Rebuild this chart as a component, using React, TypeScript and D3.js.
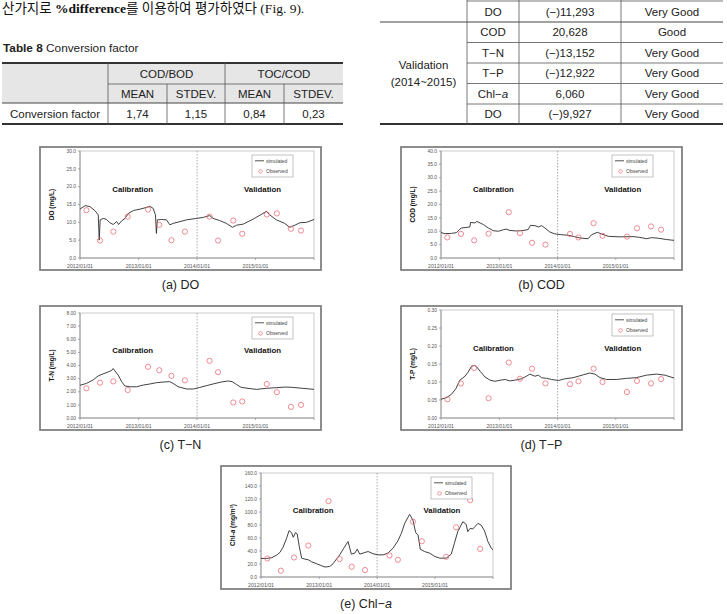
import * as d3 from 'd3'

// ---- text / tables ----
const introText = ['산가지로 ', '%difference', '를 이용하여 평가하였다 (Fig. 9).']

const convTitle = ['Table 8', ' Conversion factor']
const convGroups = ['COD/BOD', 'TOC/COD']
const convStats = ['MEAN', 'STDEV.', 'MEAN', 'STDEV.']
const convRowLabel = 'Conversion factor'
const convValues = ['1,74', '1,15', '0,84', '0,23']

const calibTail = ['DO', '(−)11,293', 'Very Good']
const validGroup = ['Validation', '(2014~2015)']
const validParams = ['COD', 'T−N', 'T−P', 'Chl−a', 'DO']
const validDiff = ['20,628', '(−)13,152', '(−)12,922', '6,060', '(−)9,927']
const validRating = ['Good', 'Very Good', 'Very Good', 'Very Good', 'Very Good']

// ---- chart data ----
const periodStart = '2012-01-01'
const periodEnd = '2016-01-01'
const validationStart = '2014-01-01'
const phaseLabels = ['Calibration', 'Validation']
const legendLabels = ['simulated', 'Observed']

const obsDates = ['2012-02-10', '2012-05-05', '2012-07-27', '2012-10-25', '2013-03-01', '2013-05-10', '2013-07-25', '2013-10-17',
  '2014-03-20', '2014-05-12', '2014-08-15', '2014-10-10', '2015-03-12', '2015-05-14', '2015-08-10', '2015-10-12']

const doSimDates = ['2012-01-01', '2012-02-02', '2012-03-03', '2012-04-03', '2012-04-24', '2012-04-30', '2012-05-06', '2012-05-25', '2012-06-15', '2012-07-05',
  '2012-07-26', '2012-08-17', '2012-08-29', '2012-09-17', '2012-10-08', '2012-10-29', '2012-11-29', '2013-01-10', '2013-02-21', '2013-03-12',
  '2013-04-02', '2013-04-16', '2013-04-22', '2013-04-28', '2013-05-23', '2013-06-24', '2013-07-15', '2013-08-05', '2013-09-16', '2013-10-27',
  '2013-12-29', '2014-02-10', '2014-03-21', '2014-04-11', '2014-05-22', '2014-07-03', '2014-08-10', '2014-09-05', '2014-10-16', '2014-12-17',
  '2015-02-09', '2015-03-10', '2015-03-30', '2015-05-11', '2015-07-02', '2015-08-03', '2015-09-04', '2015-10-05', '2015-11-16', '2016-01-01']
const doSimValues = [13.7, 14.7, 14.4, 13.3, 12.1, 5.0, 10.7, 11.1, 10.8, 9.9,
  9.4, 10.2, 9.4, 10.4, 11.1, 12.5, 13.3, 13.7, 14.2, 14.5,
  13.9, 12.1, 6.9, 10.7, 10.8, 10.7, 9.3, 9.7, 10.2, 10.7,
  11.1, 11.4, 11.9, 11.1, 10.5, 9.7, 8.6, 9.2, 9.5, 10.9,
  12.3, 13.1, 12.1, 10.7, 9.7, 8.6, 9.2, 9.9, 10.0, 10.8]
const doObsValues = [13.4, 4.9, 7.4, 11.6, 13.6, 9.3, 5.0, 7.4, 11.6, 4.9, 10.5, 6.8, 12.2, 12.5, 8.2, 7.7]

const codSimDates = ['2012-01-01', '2012-01-26', '2012-03-07', '2012-04-08', '2012-04-28', '2012-05-09', '2012-06-30', '2012-07-04', '2012-08-01', '2012-08-12',
  '2012-09-02', '2012-09-23', '2012-10-24', '2012-11-24', '2012-12-26', '2013-01-27', '2013-02-12', '2013-03-07', '2013-04-18', '2013-05-30',
  '2013-06-30', '2013-07-15', '2013-08-12', '2013-09-02', '2013-09-23', '2013-10-14', '2013-11-14', '2013-12-15', '2014-01-27', '2014-03-08',
  '2014-04-09', '2014-05-20', '2014-07-11', '2014-08-02', '2014-09-07', '2014-10-04', '2014-11-15', '2015-01-27', '2015-04-20', '2015-06-01',
  '2015-07-12', '2015-08-13', '2015-09-24', '2015-11-16', '2016-01-01']
const codSimValues = [9.5, 9.1, 9.2, 9.5, 10.8, 11.2, 11.6, 13.3, 13.1, 13.7,
  13.1, 12.5, 11.2, 10.2, 10.0, 10.6, 10.8, 10.3, 10.1, 10.3,
  10.6, 12.2, 12.1, 11.6, 12.1, 11.2, 9.7, 9.0, 8.7, 8.5,
  8.1, 7.5, 7.2, 8.7, 9.6, 9.0, 8.1, 7.9, 8.0, 7.7,
  7.2, 7.6, 7.4, 6.9, 6.6]
const codObsValues = [7.7, 9.0, 6.6, 9.1, 17.1, 9.3, 5.7, 5.0, 9.0, 7.7, 13.0, 8.3, 8.0, 11.1, 11.8, 10.6]

const tnSimDates = ['2012-01-01', '2012-02-11', '2012-03-23', '2012-04-24', '2012-05-24', '2012-06-25', '2012-07-16', '2012-07-26', '2012-08-06', '2012-08-26',
  '2012-09-17', '2012-10-07', '2012-11-08', '2012-12-19', '2013-01-30', '2013-03-11', '2013-04-22', '2013-06-03', '2013-07-14', '2013-08-04',
  '2013-09-05', '2013-10-27', '2013-12-08', '2014-01-18', '2014-02-28', '2014-04-10', '2014-06-01', '2014-07-12', '2014-08-09', '2014-09-03',
  '2014-10-04', '2014-11-15', '2015-01-07', '2015-03-08', '2015-05-10', '2015-07-11', '2015-08-22', '2015-10-23', '2016-01-01']
const tnSimValues = [2.49, 2.64, 2.90, 3.21, 3.36, 3.51, 3.62, 3.77, 3.59, 3.28,
  2.77, 2.44, 2.38, 2.38, 2.51, 2.59, 2.69, 2.74, 2.77, 2.64,
  2.38, 2.21, 2.21, 2.33, 2.46, 2.59, 2.74, 2.82, 2.77, 2.56,
  2.33, 2.26, 2.18, 2.26, 2.31, 2.36, 2.33, 2.26, 2.18]
const tnObsValues = [2.26, 2.69, 2.79, 2.13, 3.90, 3.64, 3.21, 2.87, 4.36, 3.49, 1.18, 1.26, 2.59, 1.97, 0.85, 1.0]

const tpSimDates = ['2012-01-01', '2012-02-06', '2012-03-07', '2012-04-04', '2012-04-28', '2012-05-30', '2012-06-20', '2012-07-11', '2012-07-28', '2012-08-12',
  '2012-09-02', '2012-10-03', '2012-11-04', '2012-12-05', '2013-01-06', '2013-02-07', '2013-03-07', '2013-04-08', '2013-05-20', '2013-06-20',
  '2013-07-11', '2013-08-12', '2013-09-02', '2013-09-23', '2013-10-24', '2013-11-25', '2014-01-06', '2014-02-17', '2014-04-09', '2014-06-11',
  '2014-07-22', '2014-08-23', '2014-09-24', '2014-11-05', '2015-01-07', '2015-03-08', '2015-05-10', '2015-07-12', '2015-09-14', '2015-11-05',
  '2016-01-01']
const tpSimValues = [0.052, 0.057, 0.066, 0.082, 0.105, 0.116, 0.128, 0.144, 0.146, 0.142,
  0.130, 0.114, 0.105, 0.102, 0.105, 0.107, 0.103, 0.105, 0.109, 0.116,
  0.122, 0.116, 0.119, 0.112, 0.110, 0.107, 0.104, 0.109, 0.112, 0.120,
  0.125, 0.122, 0.112, 0.107, 0.107, 0.110, 0.112, 0.119, 0.122, 0.119,
  0.111]
const tpObsValues = [0.052, 0.096, 0.139, 0.055, 0.154, 0.109, 0.137, 0.096, 0.094, 0.102, 0.137, 0.100, 0.072, 0.103, 0.096, 0.108]

const chlSimDates = ['2012-01-01', '2012-02-06', '2012-03-07', '2012-04-08', '2012-04-29', '2012-05-19', '2012-06-10', '2012-06-26', '2012-07-11', '2012-07-22',
  '2012-08-06', '2012-08-16', '2012-08-29', '2012-09-13', '2012-10-04', '2012-10-25', '2012-11-15', '2012-12-16', '2013-01-17', '2013-02-07',
  '2013-03-09', '2013-03-30', '2013-04-20', '2013-05-11', '2013-06-05', '2013-07-02', '2013-07-23', '2013-08-14', '2013-08-29', '2013-09-14',
  '2013-10-16', '2013-11-06', '2013-12-07', '2014-01-08', '2014-02-09', '2014-03-10', '2014-04-11', '2014-05-12', '2014-06-03', '2014-06-24',
  '2014-07-14', '2014-07-25', '2014-08-15', '2014-09-01', '2014-09-16', '2014-09-30', '2014-10-27', '2014-11-28', '2014-12-30', '2015-01-31',
  '2015-03-12', '2015-04-13', '2015-05-03', '2015-05-24', '2015-06-25', '2015-07-16', '2015-07-26', '2015-08-10', '2015-08-27', '2015-09-28',
  '2015-10-18', '2015-11-09', '2015-11-30', '2015-12-21', '2016-01-01']
const chlSimValues = [28.5, 28.5, 29.6, 33.6, 37.7, 45.9, 59.6, 71.3, 68.3, 61.1,
  68.3, 66.2, 46.9, 29.0, 27.5, 26.5, 23.4, 20.4, 17.3, 15.3,
  16.3, 20.4, 27.5, 34.1, 44.3, 54.5, 35.2, 36.7, 42.8, 35.2,
  37.7, 39.2, 35.7, 34.1, 34.1, 36.7, 44.3, 55.5, 67.3, 82.5,
  91.7, 96.3, 87.6, 68.3, 64.7, 42.8, 39.2, 36.7, 31.6, 29.0,
  29.0, 35.2, 52.0, 69.8, 85.1, 81.0, 69.8, 74.9, 73.9, 82.5,
  80.0, 70.8, 54.5, 44.3, 41.8]
const chlObsValues = [28.5, 9.7, 30.1, 48.4, 116.7, 27.5, 15.8, 10.7, 33.1, 26.5, 85.1, 55.0, 31.1, 76.4, 118.2, 43.3]

const SANS = '"Liberation Sans", Arial, sans-serif'
const OBS_COLOR = '#ec6f78'
const parseDate = d3.timeParse('%Y-%m-%d')

type Box = { x: number; y: number; w: number; h: number }
type Pt = { date: Date; value: number }

function WaterChart(props: {
  frame: Box; plot: Box; yMax: number; yStep: number; digits: number
  title: any; caption: any; simDates: string[]; simValues: number[]; obsValues: number[]
}) {
  const { frame, plot, yMax, yStep, digits, title, caption, simDates, simValues, obsValues } = props
  const start = parseDate(periodStart) as Date
  const end = parseDate(periodEnd) as Date
  const x = d3.scaleTime().domain([start, end]).range([plot.x, plot.x + plot.w])
  const y = d3.scaleLinear().domain([0, yMax]).range([plot.y + plot.h, plot.y])

  const sim: Pt[] = simDates.map((d, i) => ({ date: parseDate(d) as Date, value: simValues[i] }))
  const obs: Pt[] = obsDates.map((d, i) => ({ date: parseDate(d) as Date, value: obsValues[i] }))
  const line = d3.line<Pt>().x(d => x(d.date)).y(d => y(d.value))

  const n = Math.round(yMax / yStep)
  const yTicks = d3.range(0, n + 1).map(i => i * yStep)
  const xTicks = x.ticks(d3.timeYear.every(1) as any).filter(d => +d < +end)
  const fmtX = d3.timeFormat('%Y/%m/%d')
  const fmtY = d3.format(`.${digits}f`)
  const split = x(parseDate(validationStart) as Date)
  const bottom = plot.y + plot.h
  const right = plot.x + plot.w
  const lx = right - 62
  const ly = plot.y + 4
  const phaseY = plot.y + plot.h * 0.38

  return (
    <g>
      <rect x={frame.x} y={frame.y} width={frame.w} height={frame.h} fill="#fff" stroke="#7a7a7a" strokeWidth={1.7} />
      <rect x={plot.x} y={plot.y} width={plot.w} height={plot.h} fill="none" stroke="#b5b5b5" strokeWidth={0.7} />
      {/* y axis */}
      <line x1={plot.x} x2={plot.x} y1={plot.y} y2={bottom} stroke="#888" strokeWidth={0.8} />
      {yTicks.map(t => (
        <g key={t}>
          <line x1={plot.x - 2} x2={plot.x} y1={y(t)} y2={y(t)} stroke="#888" strokeWidth={0.7} />
          <text x={plot.x - 4} y={y(t)} dy="0.35em" textAnchor="end" fontSize={4.9} fill="#555" fontFamily={SANS}>{fmtY(t)}</text>
        </g>
      ))}
      {/* x axis */}
      <line x1={plot.x} x2={right} y1={bottom} y2={bottom} stroke="#888" strokeWidth={0.8} />
      {xTicks.map(t => (
        <g key={+t}>
          <line x1={x(t)} x2={x(t)} y1={bottom} y2={bottom + 2} stroke="#888" strokeWidth={0.7} />
          <text x={x(t)} y={bottom + 9.5} textAnchor="middle" fontSize={5.2} fill="#555" fontFamily={SANS}>{fmtX(t)}</text>
        </g>
      ))}
      <line x1={x(end)} x2={x(end)} y1={bottom} y2={bottom + 2} stroke="#888" strokeWidth={0.7} />
      {/* calibration / validation split */}
      <line x1={split} x2={split} y1={plot.y} y2={bottom} stroke="#8a8a8a" strokeWidth={0.7} strokeDasharray="1.5,1.5" />
      <text x={plot.x + plot.w * 0.225} y={phaseY} textAnchor="middle" fontSize={7.8} fontWeight="bold" fill="#111" fontFamily={SANS}>{phaseLabels[0]}</text>
      <text x={plot.x + plot.w * 0.78} y={phaseY} textAnchor="middle" fontSize={7.8} fontWeight="bold" fill="#111" fontFamily={SANS}>{phaseLabels[1]}</text>
      {/* series */}
      <path d={line(sim) || ''} fill="none" stroke="#2b2b2b" strokeWidth={0.9} strokeLinejoin="round" />
      {obs.map((d, i) => (
        <circle key={i} cx={x(d.date)} cy={y(d.value)} r={2.6} fill="none" stroke={OBS_COLOR} strokeWidth={0.8} />
      ))}
      {/* legend */}
      <rect x={lx} y={ly} width={41} height={22} fill="#fff" stroke="#9a9a9a" strokeWidth={0.6} />
      <line x1={lx + 3} x2={lx + 12} y1={ly + 5.8} y2={ly + 5.8} stroke="#2b2b2b" strokeWidth={0.8} />
      <text x={lx + 14} y={ly + 7.6} fontSize={5} fill="#444" fontFamily={SANS}>{legendLabels[0]}</text>
      <circle cx={lx + 8.5} cy={ly + 16.4} r={1.8} fill="none" stroke={OBS_COLOR} strokeWidth={0.7} />
      <text x={lx + 14} y={ly + 18.2} fontSize={5} fill="#444" fontFamily={SANS}>{legendLabels[1]}</text>
      {/* axis title */}
      <text transform={`translate(${plot.x - 26},${plot.y + plot.h / 2}) rotate(-90)`} textAnchor="middle" fontSize={6.5}
        fontWeight="bold" fill="#111" fontFamily={SANS}>{title}</text>
      {/* caption */}
      <text x={frame.x + frame.w / 2} y={frame.y + frame.h + 19} textAnchor="middle" fontSize={12.5} fill="#222" fontFamily={SANS}>{caption}</text>
    </g>
  )
}

function ChlA() {
  return <>Chl−<tspan fontStyle="italic">a</tspan></>
}

function ConversionTable() {
  const cols = [2, 108, 167, 225, 284, 343]
  const rows = [63, 84, 103, 124]
  const mid = (a: number, b: number) => (a + b) / 2
  return (
    <g fontFamily={SANS} fontSize={11.5} fill="#222">
      <text x={3} y={52} fontSize={11.8}>
        <tspan fontWeight="bold">{convTitle[0]}</tspan>{convTitle[1]}
      </text>
      <rect x={cols[0]} y={rows[0]} width={cols[5] - cols[0]} height={rows[2] - rows[0]} fill="#e6e6e6" />
      <line x1={cols[0]} x2={cols[5]} y1={rows[0]} y2={rows[0]} stroke="#333" strokeWidth={1.8} />
      <line x1={cols[1]} x2={cols[5]} y1={rows[1]} y2={rows[1]} stroke="#555" strokeWidth={0.8} />
      <line x1={cols[0]} x2={cols[5]} y1={rows[2]} y2={rows[2]} stroke="#444" strokeWidth={1} />
      <line x1={cols[0]} x2={cols[5]} y1={rows[3]} y2={rows[3]} stroke="#333" strokeWidth={1.8} />
      {[1, 3].map(c => <line key={c} x1={cols[c]} x2={cols[c]} y1={rows[0]} y2={rows[3]} stroke="#555" strokeWidth={0.8} />)}
      {[2, 4].map(c => <line key={c} x1={cols[c]} x2={cols[c]} y1={rows[1]} y2={rows[3]} stroke="#555" strokeWidth={0.8} />)}
      {convGroups.map((g, i) => (
        <text key={g} x={mid(cols[1 + i * 2], cols[3 + i * 2])} y={mid(rows[0], rows[1])} dy="0.36em" textAnchor="middle">{g}</text>
      ))}
      {convStats.map((s, i) => (
        <text key={i} x={mid(cols[1 + i], cols[2 + i])} y={mid(rows[1], rows[2])} dy="0.36em" textAnchor="middle">{s}</text>
      ))}
      <text x={mid(cols[0], cols[1])} y={mid(rows[2], rows[3])} dy="0.36em" textAnchor="middle">{convRowLabel}</text>
      {convValues.map((v, i) => (
        <text key={i} x={mid(cols[1 + i], cols[2 + i])} y={mid(rows[2], rows[3])} dy="0.36em" textAnchor="middle">{v}</text>
      ))}
    </g>
  )
}

function ValidationTable() {
  const cols = [380, 467, 519, 621, 723]
  const rows = [1, 22, 42.5, 63, 83.5, 104, 124]
  const mid = (a: number, b: number) => (a + b) / 2
  const label = (p: string) => (p === 'Chl−a' ? <ChlA /> : p)
  return (
    <g fontFamily={SANS} fontSize={11.5} fill="#222">
      <line x1={cols[1]} x2={cols[4]} y1={rows[0]} y2={rows[0]} stroke="#555" strokeWidth={0.8} />
      <line x1={cols[0]} x2={cols[4]} y1={rows[1]} y2={rows[1]} stroke="#444" strokeWidth={1} />
      {[2, 3, 4, 5].map(r => <line key={r} x1={cols[1]} x2={cols[4]} y1={rows[r]} y2={rows[r]} stroke="#555" strokeWidth={0.8} />)}
      <line x1={cols[0]} x2={cols[4]} y1={rows[6]} y2={rows[6]} stroke="#333" strokeWidth={1.8} />
      {[1, 2, 3].map(c => <line key={c} x1={cols[c]} x2={cols[c]} y1={0} y2={rows[6]} stroke="#555" strokeWidth={0.8} />)}
      {calibTail.map((t, i) => (
        <text key={i} x={mid(cols[1 + i], cols[2 + i])} y={mid(rows[0], rows[1])} dy="0.36em" textAnchor="middle">{t}</text>
      ))}
      <text x={mid(cols[0], cols[1])} y={mid(rows[1], rows[6]) - 8} dy="0.36em" textAnchor="middle">{validGroup[0]}</text>
      <text x={mid(cols[0], cols[1])} y={mid(rows[1], rows[6]) + 9} dy="0.36em" textAnchor="middle">{validGroup[1]}</text>
      {validParams.map((p, i) => (
        <g key={i}>
          <text x={mid(cols[1], cols[2])} y={mid(rows[1 + i], rows[2 + i])} dy="0.36em" textAnchor="middle">{label(p)}</text>
          <text x={mid(cols[2], cols[3])} y={mid(rows[1 + i], rows[2 + i])} dy="0.36em" textAnchor="middle">{validDiff[i]}</text>
          <text x={mid(cols[3], cols[4])} y={mid(rows[1 + i], rows[2 + i])} dy="0.36em" textAnchor="middle">{validRating[i]}</text>
        </g>
      ))}
    </g>
  )
}

export default function App() {
  return (
    <svg width={727} height={614} style={{ position: 'absolute', left: 0, top: 0, background: '#fff' }}>
      <text x={2} y={12.5} fontSize={13.5} fill="#111" fontFamily='"Liberation Serif", "Noto Sans CJK KR", serif'>
        {introText[0]}<tspan fontWeight="bold">{introText[1]}</tspan>{introText[2]}
      </text>
      <ConversionTable />
      <ValidationTable />
      <WaterChart frame={{ x: 40, y: 147, w: 281, h: 123 }} plot={{ x: 80, y: 151, w: 234, h: 107 }} yMax={30} yStep={5} digits={1}
        title="DO (mg/L)" caption="(a) DO" simDates={doSimDates} simValues={doSimValues} obsValues={doObsValues} />
      <WaterChart frame={{ x: 401, y: 147, w: 281, h: 123 }} plot={{ x: 441, y: 151, w: 233, h: 107 }} yMax={40} yStep={5} digits={1}
        title="COD (mg/L)" caption="(b) COD" simDates={codSimDates} simValues={codSimValues} obsValues={codObsValues} />
      <WaterChart frame={{ x: 40, y: 306, w: 281, h: 124 }} plot={{ x: 80, y: 313, w: 234, h: 105 }} yMax={8} yStep={1} digits={2}
        title="T-N (mg/L)" caption="(c) T−N" simDates={tnSimDates} simValues={tnSimValues} obsValues={tnObsValues} />
      <WaterChart frame={{ x: 401, y: 306, w: 281, h: 124 }} plot={{ x: 441, y: 310, w: 233, h: 108 }} yMax={0.3} yStep={0.05} digits={2}
        title="T-P (mg/L)" caption="(d) T−P" simDates={tpSimDates} simValues={tpSimValues} obsValues={tpObsValues} />
      <WaterChart frame={{ x: 221, y: 466, w: 290, h: 123 }} plot={{ x: 261, y: 473, w: 232, h: 104 }} yMax={160} yStep={20} digits={1}
        title={<>Chl-<tspan fontStyle="italic">a</tspan> (mg/m<tspan fontSize={4} dy={-2}>3</tspan><tspan dy={2}>)</tspan></>}
        caption={<>(e) <ChlA /></>} simDates={chlSimDates} simValues={chlSimValues} obsValues={chlObsValues} />
    </svg>
  )
}
